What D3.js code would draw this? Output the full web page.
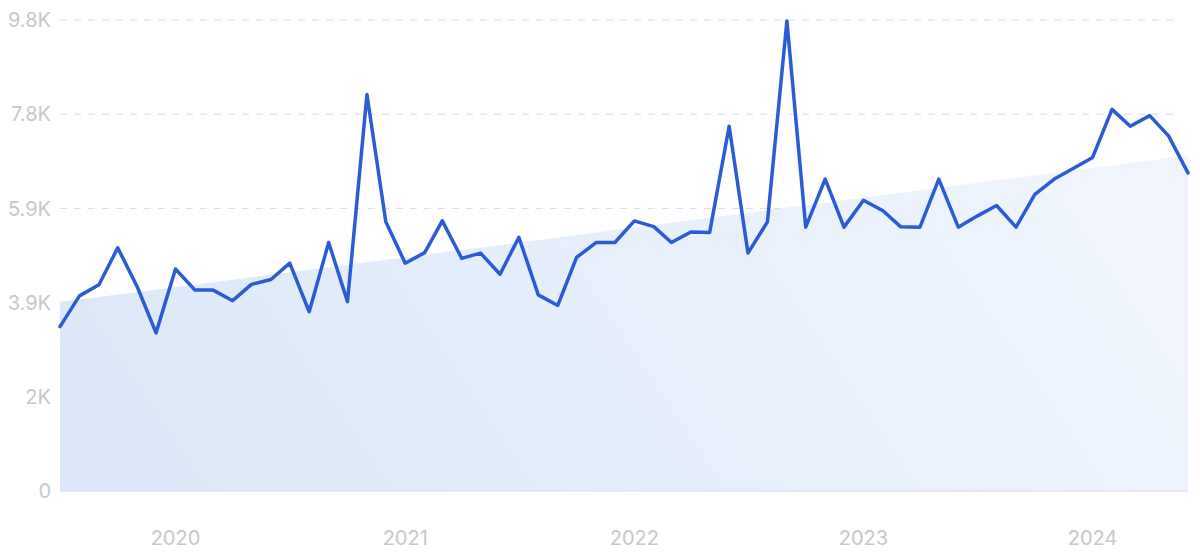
<!DOCTYPE html>
<html>
<head>
<meta charset="utf-8">
<script src="https://cdn.jsdelivr.net/npm/d3@7"></script>
<style>
  html, body { margin: 0; padding: 0; background: #fff; }
  svg { display: block; }
  text { font-family: Inter, "Noto Sans", sans-serif; }
</style>
</head>
<body>
<svg id="chart" width="1200" height="553"></svg>
<script>
// Monthly data, Jul 2019 .. Jun 2024
const startMonth = "2019-07";
const values = [
  3420, 4060, 4290, 5060, 4250, 3290, 4620, 4180, 4180, 3960, 4300, 4400,
  4740, 3730, 5170, 3940, 8250, 5600, 4740, 4960, 5620, 4840, 4950, 4510,
  5280, 4080, 3860, 4860, 5170, 5170, 5620, 5500, 5170, 5390, 5380, 7590,
  4950, 5600, 9780, 5490, 6490, 5490, 6050, 5830, 5500, 5490, 6490, 5490,
  5720, 5940, 5490, 6170, 6490, 6710, 6940, 7940, 7590, 7810, 7390, 6620
];
const trendValues = [3930, 6980];           // trend at first and last month
const yTicks = [0, 1960, 3920, 5880, 7840, 9800];
const yTickLabels = ["0", "2K", "3.9K", "5.9K", "7.8K", "9.8K"];
const xTickYears = [2020, 2021, 2022, 2023, 2024];

(function () {
const parse = d3.timeParse("%Y-%m");
const t0 = parse(startMonth);
const dates = values.map((v, i) => d3.timeMonth.offset(t0, i));
const data = values.map((v, i) => ({ date: dates[i], value: v }));

const svg = d3.select("#chart");
const mLeft = 60, mRight = 1188, mTop = 20, mBottom = 491;

const x = d3.scaleTime().domain([dates[0], dates[dates.length - 1]]).range([mLeft, mRight]);
const y = d3.scaleLinear().domain([0, 9800]).range([mBottom, mTop]);

// gradient
const defs = svg.append("defs");
const grad = defs.append("linearGradient").attr("id", "trendFill")
  .attr("x1", "0%").attr("y1", "60%").attr("x2", "100%").attr("y2", "40%");
grad.append("stop").attr("offset", "0%").attr("stop-color", "#dce8f9");
grad.append("stop").attr("offset", "100%").attr("stop-color", "#f0f5fd");

// grid
svg.append("g").selectAll("line").data(yTicks.slice(1)).join("line")
  .attr("x1", mLeft).attr("x2", 1180)
  .attr("y1", d => y(d)).attr("y2", d => y(d))
  .attr("stroke", "#d3ddee").attr("stroke-width", 1)
  .attr("stroke-dasharray", "7,7");

// trend area
const trendData = [
  { date: dates[0], value: trendValues[0] },
  { date: dates[dates.length - 1], value: trendValues[1] }
];
svg.append("path").datum(trendData)
  .attr("fill", "url(#trendFill)")
  .attr("d", d3.area().x(d => x(d.date)).y0(y(0)).y1(d => y(d.value)));

// baseline
svg.append("line").attr("x1", mLeft).attr("x2", mRight)
  .attr("y1", y(0)).attr("y2", y(0))
  .attr("stroke", "#cddcf2").attr("stroke-width", 1.2);

// y labels
svg.append("g").selectAll("text").data(yTicks).join("text")
  .attr("x", 51).attr("y", d => y(d))
  .attr("dy", "0.36em")
  .attr("text-anchor", "end")
  .attr("font-size", 20)
  .attr("fill", "#c6c8cd")
  .text((d, i) => yTickLabels[i]);

// x labels
svg.append("g").selectAll("text").data(xTickYears).join("text")
  .attr("x", d => x(new Date(d, 0, 1)))
  .attr("y", 545)
  .attr("text-anchor", "middle")
  .attr("font-size", 20)
  .attr("fill", "#c6c8cd")
  .text(d => d);

// line
svg.append("path").datum(data)
  .attr("fill", "none")
  .attr("stroke", "#2c5bd6")
  .attr("stroke-width", 3.5)
  .attr("stroke-linejoin", "round")
  .attr("stroke-linecap", "round")
  .attr("d", d3.line().x(d => x(d.date)).y(d => y(d.value)));
})();
</script>
</body>
</html>
